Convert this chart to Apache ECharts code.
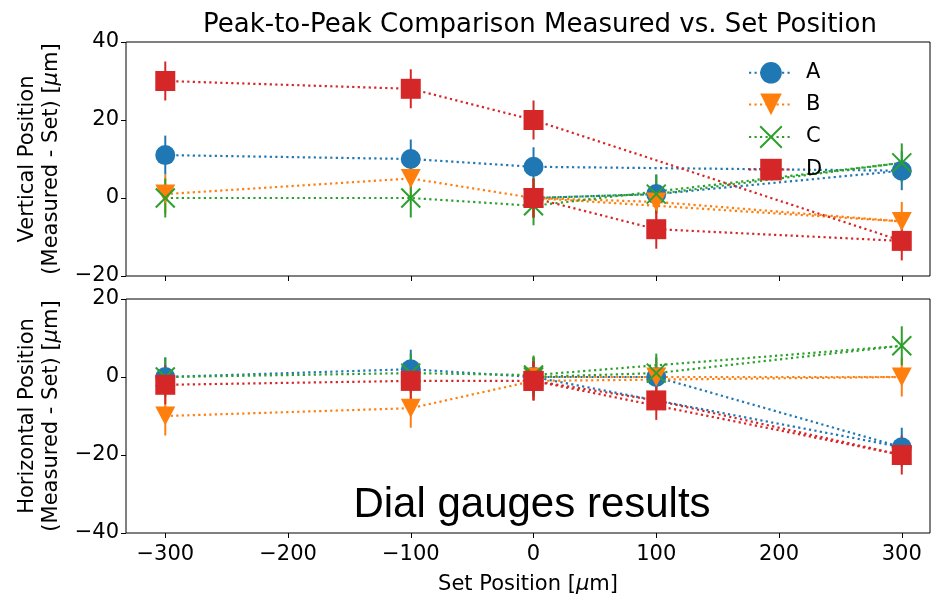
<!DOCTYPE html>
<html lang="en">
<head>
<meta charset="UTF-8">
<title>Peak-to-Peak Comparison</title>
<script src="https://cdn.jsdelivr.net/npm/echarts@6/dist/echarts.min.js"></script>
<style>
    html, body { margin: 0; padding: 0; background: #fff; overflow: hidden; }
    #chart { width: 931px; height: 599px; }
</style>
</head>
<body>
<div id="chart"></div>
<script>
    // measurement order as recorded (the run goes out to +300 and back)
    var setPos = [-300, -100, 0, 300, 100, 0];
    var xTicks = [-300, -200, -100, 0, 100, 200, 300];
    var names = ['A', 'B', 'C', 'D'];

    // vertical position (measured - set), um
    var vertA = [11, 10, 8, 7, 1, 0];
    var vertB = [1, 5, 0, -6, -1, 0];
    var vertC = [0, 0, -2, 9, 1, 0];
    var vertD = [30, 28, 20, -11, -8, 0];
    var vertErr = [5, 5, 5, 5, 5, 5];

    // horizontal position (measured - set), um
    var horA = [0, 2, 0, -18, 0, 0];
    var horB = [-10, -8, -1, 0, 0, 0];
    var horC = [0, 1, 0.5, 8, 1, 0];
    var horD = [-2, -1, -1, -20, -6, -1];
    var horErr = [5, 5, 5, 5, 5, 5];

    var colors = ['#1f77b4', '#ff7f0e', '#2ca02c', '#d62728'];
    var font = 'DejaVu Sans';

    var markers = [
        { symbol: 'circle', size: 20, rotate: 0 },
        { symbol: 'triangle', size: [20, 19], rotate: 180 },
        { symbol: 'path://M0,0L10,10M10,0L0,10', size: 19, rotate: 0 },
        { symbol: 'rect', size: 20, rotate: 0 }
    ];

    function pairs(vals, errs) {
        return vals.map(function (v, i) { return [setPos[i], v, errs[i]]; });
    }

    function errSeries(name, data, color, gi) {
        return {
            name: name + ' err',
            type: 'custom',
            xAxisIndex: gi,
            yAxisIndex: gi,
            data: data,
            renderItem: function (params, api) {
                var x = api.value(0), y = api.value(1), e = api.value(2);
                var p1 = api.coord([x, y - e]);
                var p2 = api.coord([x, y + e]);
                return {
                    type: 'line',
                    shape: { x1: p1[0], y1: p1[1], x2: p2[0], y2: p2[1] },
                    style: { stroke: color, lineWidth: 2 }
                };
            },
            silent: true
        };
    }

    function lineSeries(k, data, gi) {
        var m = markers[k];
        var isX = k === 2;
        return {
            name: names[k],
            type: 'line',
            xAxisIndex: gi,
            yAxisIndex: gi,
            data: data.map(function (d) { return [d[0], d[1]]; }),
            symbol: m.symbol,
            symbolSize: m.size,
            symbolRotate: m.rotate,
            showAllSymbol: true,
            lineStyle: { color: colors[k], width: 2.2, type: [2.2, 3.3] },
            itemStyle: {
                color: isX ? 'rgba(0,0,0,0)' : colors[k],
                borderColor: colors[k],
                borderWidth: isX ? 2 : 0,
                opacity: 1
            },
            emphasis: { disabled: true }
        };
    }

    var vertSets = [vertA, vertB, vertC, vertD];
    var horSets = [horA, horB, horC, horD];
    var series = [];
    [vertSets, horSets].forEach(function (sets, gi) {
        var errs = gi === 0 ? vertErr : horErr;
        sets.forEach(function (vals, k) {
            var d = pairs(vals, errs);
            series.push(errSeries(names[k], d, colors[k], gi));
            series.push(lineSeries(k, d, gi));
        });
    });

    function minus(v) { return String(v).replace('-', '\u2212'); }

    var fs = 21;
    var muRich = { i: { fontStyle: 'italic', fontSize: fs, fontFamily: font, color: '#000' } };
    var tickText = { color: '#000', fontSize: fs, fontFamily: font, formatter: minus, margin: 7 };
    var yNameStyle = {
        color: '#000', fontSize: fs, fontFamily: font, lineHeight: 24, align: 'center',
        rich: muRich
    };

    function xAxis(gi) {
        return {
            type: 'value',
            gridIndex: gi,
            min: -332,
            max: 323,
            splitLine: { show: false },
            axisLine: { show: false, onZero: false },
            axisTick: { show: true, customValues: xTicks, length: 5, lineStyle: { color: '#000', width: 1 } },
            axisLabel: gi === 1
                ? { show: true, customValues: xTicks, margin: 11, color: '#000', fontSize: fs, fontFamily: font, formatter: minus }
                : { show: false },
            name: gi === 1 ? 'Set Position [{i|\u03bc}m]' : '',
            nameLocation: 'middle',
            nameGap: 41,
            nameTextStyle: gi === 1 ? { color: '#000', fontSize: fs, fontFamily: font, rich: muRich } : {}
        };
    }

    function yAxis(gi, min, max, title) {
        return {
            type: 'value',
            gridIndex: gi,
            min: min,
            max: max,
            interval: 20,
            splitLine: { show: false },
            axisLine: { show: false, onZero: false },
            axisTick: { show: true, length: 5, lineStyle: { color: '#000', width: 1 } },
            axisLabel: tickText,
            name: title,
            nameLocation: 'middle',
            nameRotate: 90,
            nameGap: 62,
            nameTextStyle: yNameStyle
        };
    }

    var chart = echarts.init(document.getElementById('chart'), null, { renderer: 'canvas' });
    chart.setOption({
        backgroundColor: '#fff',
        animation: false,
        title: {
            text: 'Peak-to-Peak Comparison Measured vs. Set Position',
            left: 535,
            textAlign: 'center',
            top: 7,
            textStyle: { color: '#000', fontSize: 26, fontWeight: 'normal', fontFamily: font }
        },
        legend: {
            data: names,
            orient: 'vertical',
            left: 743,
            top: 57,
            itemWidth: 44,
            itemHeight: 27,
            itemGap: 10,
            textStyle: { color: '#000', fontSize: fs, fontFamily: font, padding: [0, 0, 0, 8] },
            selectedMode: false
        },
        grid: [
            { left: 126, top: 42, right: 1, height: 234, show: true, borderColor: '#000', borderWidth: 1, backgroundColor: 'transparent' },
            { left: 126, top: 299, right: 1, height: 234, show: true, borderColor: '#000', borderWidth: 1, backgroundColor: 'transparent' }
        ],
        xAxis: [xAxis(0), xAxis(1)],
        yAxis: [
            yAxis(0, -20, 40, 'Vertical Position\n(Measured - Set) [{i|\u03bc}m]'),
            yAxis(1, -40, 20, 'Horizontal Position\n(Measured - Set) [{i|\u03bc}m]')
        ],
        graphic: [{
            type: 'text',
            x: 532,
            y: 505,
            style: {
                text: 'Dial gauges results',
                fill: '#000',
                font: '42px "Liberation Sans"',
                textAlign: 'center',
                textVerticalAlign: 'middle'
            },
            silent: true
        }],
        series: series
    });
</script>
</body>
</html>
